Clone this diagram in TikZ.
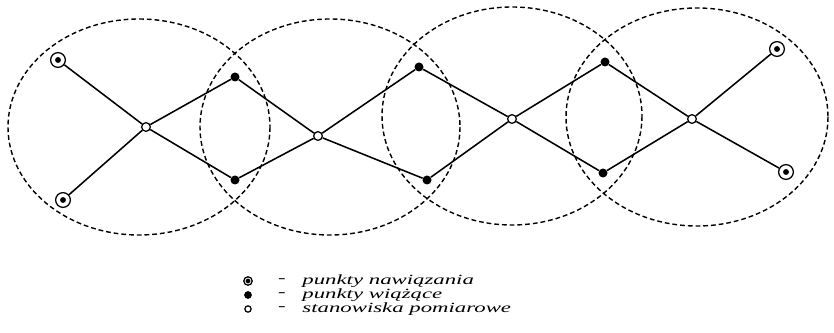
\documentclass[tikz,border=0pt]{standalone}
\usepackage{fontspec}
\setmainfont{Liberation Serif}
\usetikzlibrary{positioning}
\tikzset{>=latex}
\colorlet{netcol}{black}
\tikzstyle{zone}=[netcol,dash pattern=on 3.4pt off 2.1pt,line width=1pt]
\tikzstyle{leg}=[netcol,line width=1.1pt]
\tikzset{
  refpt/.style={circle,draw=netcol,fill=white,line width=0.9pt,minimum size=#1,inner sep=0pt,
                path picture={\fill[netcol] (path picture bounding box.center) circle (2.1pt);}},
  refpt/.default=10.5pt,
  tiept/.style={circle,fill=netcol,minimum size=#1,inner sep=0pt},
  tiept/.default=6.4pt,
  station/.style={circle,draw=netcol,fill=white,line width=0.9pt,minimum size=#1,inner sep=0pt},
  station/.default=6.2pt,
  legtext/.style={font=\fontsize{10}{11}\selectfont\itshape,xscale=1.62,inner sep=0pt}}

\begin{document}
\begin{tikzpicture}[x=0.025cm,y=-0.025cm]
  \useasboundingbox (0,0) rectangle (834,333);

  % ZONES
  \draw[zone] (139,127) ellipse (131 and 108);
  \draw[zone] (330,127) ellipse (130 and 108);
  \draw[zone] (512,116) ellipse (130 and 109);
  \draw[zone] (697,117) ellipse (131 and 109);

  % POINTS
  \node[refpt]   (R1) at (58,60)   {};
  \node[refpt]   (R2) at (63,200)  {};
  \node[refpt]   (R3) at (777,49)  {};
  \node[refpt]   (R4) at (786,172) {};
  \node[station] (S1) at (146,127) {};
  \node[station] (S2) at (318,136) {};
  \node[station] (S3) at (512,119) {};
  \node[station] (S4) at (692,119) {};
  \node[tiept]   (T1a) at (235,77)  {};
  \node[tiept]   (T1b) at (235,180) {};
  \node[tiept]   (T2a) at (419,67)  {};
  \node[tiept]   (T2b) at (427,180) {};
  \node[tiept]   (T3a) at (605,62)  {};
  \node[tiept]   (T3b) at (603,173) {};

  % NETWORK
  \draw[leg] (R1) -- (S1) -- (R2);
  \draw[leg] (T1a) -- (S1) -- (T1b);
  \draw[leg] (T1a) -- (S2) -- (T1b);
  \draw[leg] (T2a) -- (S2) -- (T2b);
  \draw[leg] (T2a) -- (S3) -- (T2b);
  \draw[leg] (T3a) -- (S3) -- (T3b);
  \draw[leg] (T3a) -- (S4) -- (T3b);
  \draw[leg] (R3) -- (S4) -- (R4);

  % LEGEND
  \node[refpt=7.5pt,scale=0.8] (kR) at (248,281) {};
  \node[tiept=5.5pt]           (kT) at (248,295) {};
  \node[station=4.5pt]         (kS) at (248,309) {};
  \foreach \k in {R,T,S}{
    \node[legtext] (d\k) at ([xshift=34*0.025cm]k\k) {-};
  }
  \node[legtext,anchor=west] (tR) at ([xshift=54*0.025cm]kR) {punkty nawiązania};
  \node[legtext,anchor=west] (tT) at ([xshift=54*0.025cm]kT) {punkty wiążące};
  \node[legtext,anchor=west] (tS) at ([xshift=54*0.025cm]kS) {stanowiska pomiarowe};
\end{tikzpicture}
\end{document}
